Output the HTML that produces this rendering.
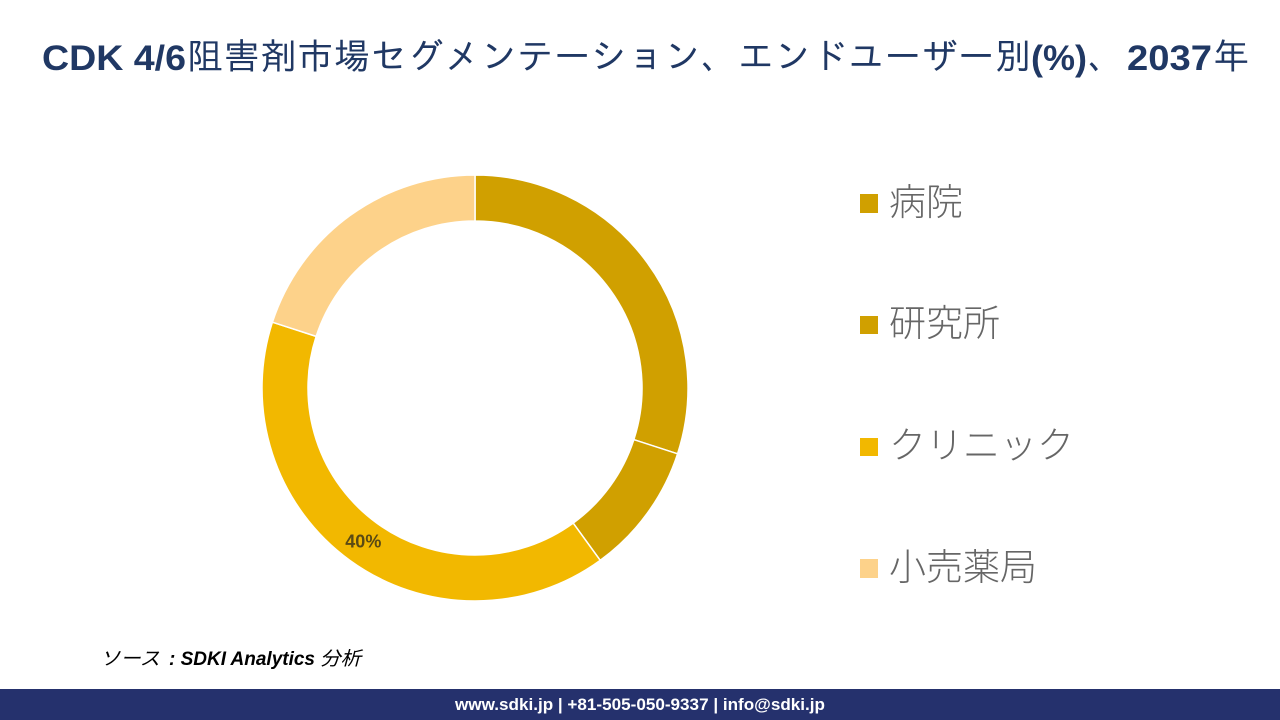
<!DOCTYPE html>
<html lang="ja">
<head>
<meta charset="utf-8">
<title>CDK 4/6阻害剤市場セグメンテーション</title>
<style>
html,body{margin:0;padding:0;background:#fff;}
body{width:1280px;height:720px;overflow:hidden;}
svg{display:block;}
.latin{font-family:"Liberation Sans",sans-serif;font-weight:700;fill:#203864;}
.cjk{font-family:"IPAGothic","Noto Sans CJK JP",sans-serif;fill:#203864;}
.legend{font-family:"Noto Sans CJK JP","Liberation Sans",sans-serif;font-weight:300;font-size:37px;fill:#666666;}
.src{font-size:19px;font-style:italic;fill:#000;}
</style>
</head>
<body>
<svg id="chart" xmlns="http://www.w3.org/2000/svg" width="1280" height="720" viewBox="0 0 1280 720">
  <rect x="0" y="0" width="1280" height="720" fill="#ffffff"/>
  <g>
    <text class="latin" x="42" y="70" font-size="35" textLength="144" lengthAdjust="spacingAndGlyphs">CDK 4/6</text>
    <text class="cjk" x="187" y="69" font-size="36" textLength="844" lengthAdjust="spacing">阻害剤市場セグメンテーション、エンドユーザー別</text>
    <text class="latin" x="1031" y="70" font-size="35" textLength="56" lengthAdjust="spacingAndGlyphs">(%)</text>
    <text class="cjk" x="1088" y="69" font-size="36">、</text>
    <text class="latin" x="1127" y="70" font-size="35" textLength="85" lengthAdjust="spacingAndGlyphs">2037</text>
    <text class="cjk" x="1213" y="69" font-size="36">年</text>
  </g>
  <g id="slices"></g>
  <g>
    <g>
      <rect x="860" y="194" width="18" height="19" fill="#d0a000"/>
      <text class="legend" x="889" y="215">病院</text>
    </g>
    <g>
      <rect x="860" y="316" width="18" height="18" fill="#d0a000"/>
      <text class="legend" x="889" y="336">研究所</text>
    </g>
    <g>
      <rect x="860" y="438" width="18" height="18" fill="#f2b800"/>
      <text class="legend" x="889" y="458">クリニック</text>
    </g>
    <g>
      <rect x="860" y="559" width="18" height="19" fill="#fdd28a"/>
      <text class="legend" x="889" y="580">小売薬局</text>
    </g>
  </g>
  <g>
    <text class="src" x="100" y="665" font-family="'Noto Sans CJK JP',sans-serif" textLength="60" lengthAdjust="spacingAndGlyphs">ソース</text>
    <text class="src" x="169" y="665" font-weight="700" font-family="'Liberation Sans',sans-serif" textLength="146" lengthAdjust="spacingAndGlyphs">: SDKI Analytics</text>
    <text class="src" x="320" y="665" font-family="'Noto Sans CJK JP',sans-serif" textLength="41" lengthAdjust="spacingAndGlyphs">分析</text>
  </g>
  <rect x="0" y="689" width="1280" height="31" fill="#25316d"/>
  <text x="455" y="710" font-size="17" font-weight="700" fill="#ffffff" font-family="'Liberation Sans',sans-serif" textLength="370" lengthAdjust="spacingAndGlyphs">www.sdki.jp | +81-505-050-9337 | info@sdki.jp</text>
</svg>
<script>
const categories = ['hospital', 'laboratory', 'clinic', 'retail-pharmacy'];
const shareValues = [30, 10, 40, 20];
const sliceColors = ['#d0a000', '#d0a000', '#f2b800', '#fdd28a'];
const printedLabels = ['', '', '40%', ''];

const cx = 475;
const cy = 388;
const outerR = 213;
const innerR = 167;
const NS = 'http://www.w3.org/2000/svg';
const total = shareValues.reduce(function (a, b) { return a + b; }, 0);

function angleOf(v) {
  return v / total * Math.PI * 2;
}
function pointAt(r, a) {
  return [cx + r * Math.sin(a), cy - r * Math.cos(a)];
}
function arcPath(a0, a1) {
  const large = a1 - a0 > Math.PI ? 1 : 0;
  const p0 = pointAt(outerR, a0);
  const p1 = pointAt(outerR, a1);
  const p2 = pointAt(innerR, a1);
  const p3 = pointAt(innerR, a0);
  return 'M' + p0[0] + ' ' + p0[1] +
    'A' + outerR + ' ' + outerR + ' 0 ' + large + ' 1 ' + p1[0] + ' ' + p1[1] +
    'L' + p2[0] + ' ' + p2[1] +
    'A' + innerR + ' ' + innerR + ' 0 ' + large + ' 0 ' + p3[0] + ' ' + p3[1] + 'Z';
}

const group = document.getElementById('slices');
let running = 0;
shareValues.forEach(function (v, i) {
  const a0 = angleOf(running);
  const a1 = angleOf(running + v);
  const slice = document.createElementNS(NS, 'path');
  slice.setAttribute('d', arcPath(a0, a1));
  slice.setAttribute('fill', sliceColors[i]);
  slice.setAttribute('stroke', '#ffffff');
  slice.setAttribute('stroke-width', '1.5');
  
  
  group.appendChild(slice);
  if (printedLabels[i]) {
    const mid = a0 + (a1 - a0) * 0.5;
    const pos = pointAt((outerR + innerR) / 2, mid);
    const label = document.createElementNS(NS, 'text');
    label.textContent = printedLabels[i];
    label.setAttribute('x', pos[0]);
    label.setAttribute('y', pos[1] + 6);
    label.setAttribute('text-anchor', 'middle');
    label.setAttribute('font-family', '"Liberation Sans", sans-serif');
    label.setAttribute('font-size', '18');
    label.setAttribute('font-weight', '700');
    label.setAttribute('fill', '#5a4a14');
    
    
    group.appendChild(label);
  }
  running += v;
});
</script>
</body>
</html>
